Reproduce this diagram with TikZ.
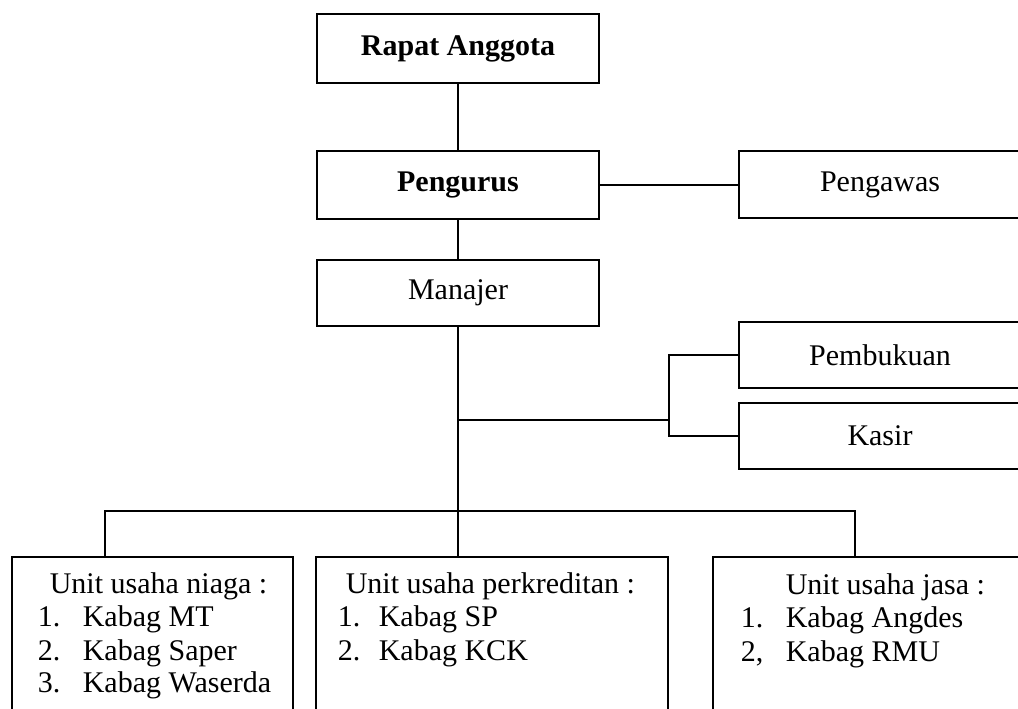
\documentclass[tikz,border=0pt]{standalone}
\usepackage{fontspec}
\setmainfont{Liberation Serif}
\begin{document}
\begin{tikzpicture}[x=1pt,y=-1pt,line width=1.6pt,
  box/.style={draw, rectangle, inner sep=0pt, font=\fontsize{30}{33}\selectfont},
  txt/.style={inner sep=0pt, anchor=base west, font=\fontsize{30}{33}\selectfont}]
\useasboundingbox (0,0) rectangle (1018,709);
\clip (0,0) rectangle (1018,709);
% top column
\node[box, minimum width=282pt, minimum height=69pt] (rapat) at (458,48.5) {\bfseries Rapat Anggota};
\node[box, minimum width=282pt, minimum height=68pt] (pengurus) at (458,185) {\bfseries Pengurus};
\node[box, minimum width=282pt, minimum height=66pt] (manajer) at (458,293) {Manajer};
% right column
\node[box, minimum width=282pt, minimum height=67pt] (pengawas) at (880,184.5) {Pengawas};
\node[box, minimum width=282pt, minimum height=66pt] (pembukuan) at (880,355) {Pembukuan};
\node[box, minimum width=282pt, minimum height=66pt] (kasir) at (880,436) {Kasir};
% bottom boxes
\node[box, minimum width=281pt, minimum height=200pt] (niaga) at (152.5,657) {};
\node[box, minimum width=352pt, minimum height=200pt] (kredit) at (492,657) {};
\node[box, minimum width=330pt, minimum height=200pt] (jasa) at (878,657) {};
% texts of bottom boxes
\node[txt] (n0) at (49,593) {Unit usaha niaga :};
\node[txt] (n1) at (37,626) {\makebox[45pt][l]{1.}Kabag MT};
\node[txt] (n2) at (37,660) {\makebox[45pt][l]{2.}Kabag Saper};
\node[txt] (n3) at (37,692) {\makebox[45pt][l]{3.}Kabag Waserda};
\node[txt] (k0) at (345,593) {Unit usaha perkreditan :};
\node[txt] (k1) at (337,626) {\makebox[41pt][l]{1.}Kabag SP};
\node[txt] (k2) at (337,660) {\makebox[41pt][l]{2.}Kabag KCK};
\node[txt] (j0) at (785,594) {Unit usaha jasa :};
\node[txt] (j1) at (740,627) {\makebox[45pt][l]{1.}Kabag Angdes};
\node[txt] (j2) at (740,661) {\makebox[45pt][l]{2,}Kabag RMU};
% connectors
\coordinate (dl) at (105,511);
\coordinate (dr) at (855,511);
\coordinate (fork) at (669,420);
\draw (rapat) -- (pengurus);
\draw (pengurus) -- (manajer);
\draw (pengurus.east) -- (pengurus.east -| pengawas.west);
\draw (manajer.south) -- (manajer.south |- kredit.north);
\draw (dl |- niaga.north) -- (dl) -- (dr) -- (dr |- jasa.north);
\draw (manajer.south |- fork) -- (fork);
\draw (pembukuan.west) -| (fork) |- (kasir.west);
\end{tikzpicture}
\end{document}
